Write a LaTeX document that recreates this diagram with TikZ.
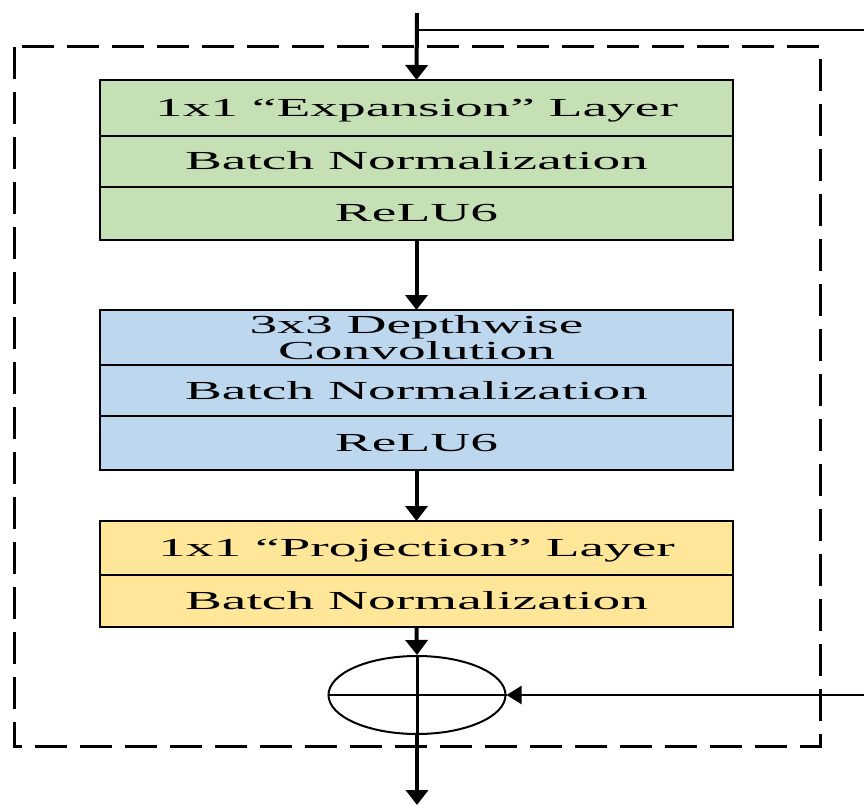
\documentclass[tikz,border=0pt]{standalone}
\usepackage{fontspec}
\setmainfont{Liberation Serif}
\usepackage{graphicx}
\usetikzlibrary{shapes.geometric,arrows.meta}

\newcommand{\wide}[1]{\scalebox{2.13}[1]{#1}}

\begin{document}
\begin{tikzpicture}[x=1pt,y=-1pt]
  \tikzset{layer/.style={draw,line width=1.5pt,minimum width=633pt,inner sep=0pt,outer sep=0pt,
      font=\fontsize{26}{27}\selectfont,align=center}};
  \tikzset{oneline/.style={layer,text height=23pt,text depth=6pt}};
  \tikzset{flow/.style={line width=4pt,arrows={-{Triangle[length=15pt,width=22pt]}}}};
  \definecolor{expgreen}{HTML}{C5E0B4}
  \definecolor{dwblue}{HTML}{BDD7EE}
  \definecolor{projyellow}{HTML}{FFE699}
  \useasboundingbox (0,0) rectangle (864,805);
  \draw[line width=3pt,dash pattern=on 32pt off 13pt] (14,47) rectangle (820,746);
  \node[oneline,fill=expgreen,minimum height=56pt] (exp) at (416.5,108) {\wide{1x1 “Expansion” Layer}};
  \node[oneline,fill=expgreen,minimum height=51pt] (bn1) at (416.5,161.5) {\wide{Batch Normalization}};
  \node[oneline,fill=expgreen,minimum height=53pt] (relu1) at (416.5,213.5) {\wide{ReLU6}};
  \node[layer,fill=dwblue,minimum height=55pt] (dw) at (416.5,337.5) {\wide{3x3 Depthwise}\\[-1pt]\wide{Convolution}};
  \node[oneline,fill=dwblue,minimum height=51pt] (bn2) at (416.5,390.5) {\wide{Batch Normalization}};
  \node[oneline,fill=dwblue,minimum height=54pt] (relu2) at (416.5,443) {\wide{ReLU6}};
  \node[oneline,fill=projyellow,minimum height=54pt] (proj) at (416.5,548) {\wide{1x1 “Projection” Layer}};
  \node[oneline,fill=projyellow,minimum height=52pt] (bn3) at (416.5,601) {\wide{Batch Normalization}};
  \draw[line width=2.5pt] (exp.north west) rectangle (relu1.south east);
  \draw[line width=2.5pt] (dw.north west) rectangle (relu2.south east);
  \draw[line width=2.5pt] (proj.north west) rectangle (bn3.south east);
  \node[ellipse,draw,line width=2pt,minimum width=177pt,minimum height=78pt,inner sep=0pt] (add) at (417,695) {};
  \draw[line width=1.5pt] (add.west) -- (add.east);
  \draw[line width=3pt] (add.north) -- (add.south);
  \coordinate (in) at (417,13);
  \coordinate (split) at (417,30);
  \coordinate (skipout) at (864,30);
  \coordinate (skipin) at (864,695);
  \coordinate (out) at (417,805);
  \draw[flow] (in) -- (exp.north);
  \draw[line width=2pt] (split) -- (skipout);
  \draw[flow] (relu1.south) -- (dw.north);
  \draw[flow] (relu2.south) -- (proj.north);
  \draw[flow] (bn3.south) -- (add.north);
  \draw[flow] (add.south) -- (out);
  \draw[line width=2pt,arrows={-{Triangle[length=15pt,width=18pt]}}] (skipin) -- (add.east);
\end{tikzpicture}
\end{document}
